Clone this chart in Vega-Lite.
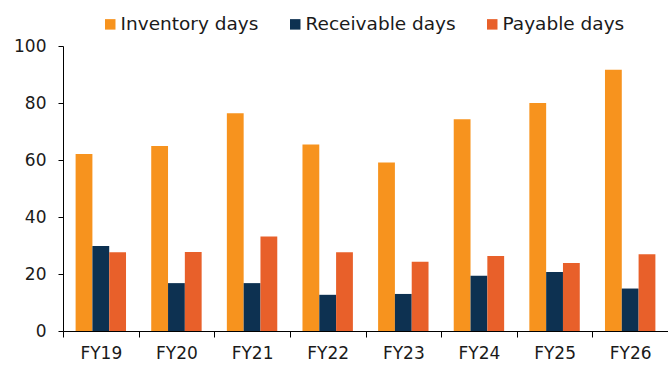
{
  "$schema": "https://vega.github.io/schema/vega-lite/v6.json",
  "width": 605,
  "height": 285,
  "autosize": {"type": "none"},
  "padding": {"left": 63, "top": 46, "right": 0, "bottom": 34},
  "background": "white",
  "config": {
    "font": "DejaVu Sans",
    "view": {"stroke": null}
  },
  "data": {
    "values": [
      {"year": "FY19", "metric": "Inventory days", "value": 62.1},
      {"year": "FY19", "metric": "Receivable days", "value": 29.8},
      {"year": "FY19", "metric": "Payable days", "value": 27.6},
      {"year": "FY20", "metric": "Inventory days", "value": 64.9},
      {"year": "FY20", "metric": "Receivable days", "value": 16.8},
      {"year": "FY20", "metric": "Payable days", "value": 27.7},
      {"year": "FY21", "metric": "Inventory days", "value": 76.4},
      {"year": "FY21", "metric": "Receivable days", "value": 16.8},
      {"year": "FY21", "metric": "Payable days", "value": 33.2},
      {"year": "FY22", "metric": "Inventory days", "value": 65.4},
      {"year": "FY22", "metric": "Receivable days", "value": 12.7},
      {"year": "FY22", "metric": "Payable days", "value": 27.6},
      {"year": "FY23", "metric": "Inventory days", "value": 59.1},
      {"year": "FY23", "metric": "Receivable days", "value": 13.0},
      {"year": "FY23", "metric": "Payable days", "value": 24.3},
      {"year": "FY24", "metric": "Inventory days", "value": 74.3},
      {"year": "FY24", "metric": "Receivable days", "value": 19.4},
      {"year": "FY24", "metric": "Payable days", "value": 26.3},
      {"year": "FY25", "metric": "Inventory days", "value": 80.0},
      {"year": "FY25", "metric": "Receivable days", "value": 20.7},
      {"year": "FY25", "metric": "Payable days", "value": 23.9},
      {"year": "FY26", "metric": "Inventory days", "value": 91.7},
      {"year": "FY26", "metric": "Receivable days", "value": 14.9},
      {"year": "FY26", "metric": "Payable days", "value": 26.9}
    ]
  },
  "mark": {"type": "bar"},
  "encoding": {
    "x": {
      "field": "year",
      "type": "nominal",
      "sort": null,
      "scale": {"paddingInner": 0, "paddingOuter": 0},
      "axis": {
        "title": null,
        "labelAngle": 0,
        "labelFontSize": 17,
        "labelColor": "#1a1a1a",
        "labelPadding": 8,
        "tickBand": "extent",
        "tickSize": 6,
        "tickColor": "#000000",
        "domainColor": "#000000",
        "grid": false
      }
    },
    "xOffset": {
      "field": "metric",
      "type": "nominal",
      "sort": ["Inventory days", "Receivable days", "Payable days"],
      "scale": {"paddingInner": 0, "paddingOuter": 0.75}
    },
    "y": {
      "field": "value",
      "type": "quantitative",
      "scale": {"domain": [0, 100], "nice": false},
      "axis": {
        "title": null,
        "values": [0, 20, 40, 60, 80, 100],
        "labelFontSize": 17,
        "labelColor": "#1a1a1a",
        "labelPadding": 12,
        "tickSize": 5,
        "tickColor": "#000000",
        "domainColor": "#000000",
        "grid": false
      }
    },
    "color": {
      "field": "metric",
      "type": "nominal",
      "scale": {
        "domain": ["Inventory days", "Receivable days", "Payable days"],
        "range": ["#F7931E", "#0D3151", "#E8602A"]
      },
      "legend": {
        "title": null,
        "orient": "none",
        "direction": "horizontal",
        "legendX": 38,
        "legendY": -31,
        "padding": 0,
        "symbolType": "square",
        "symbolSize": 110,
        "symbolStrokeWidth": 0,
        "labelFontSize": 18.5,
        "labelColor": "#1a1a1a",
        "labelOffset": 1,
        "columnPadding": 27,
        "labelLimit": 300
      }
    }
  }
}
